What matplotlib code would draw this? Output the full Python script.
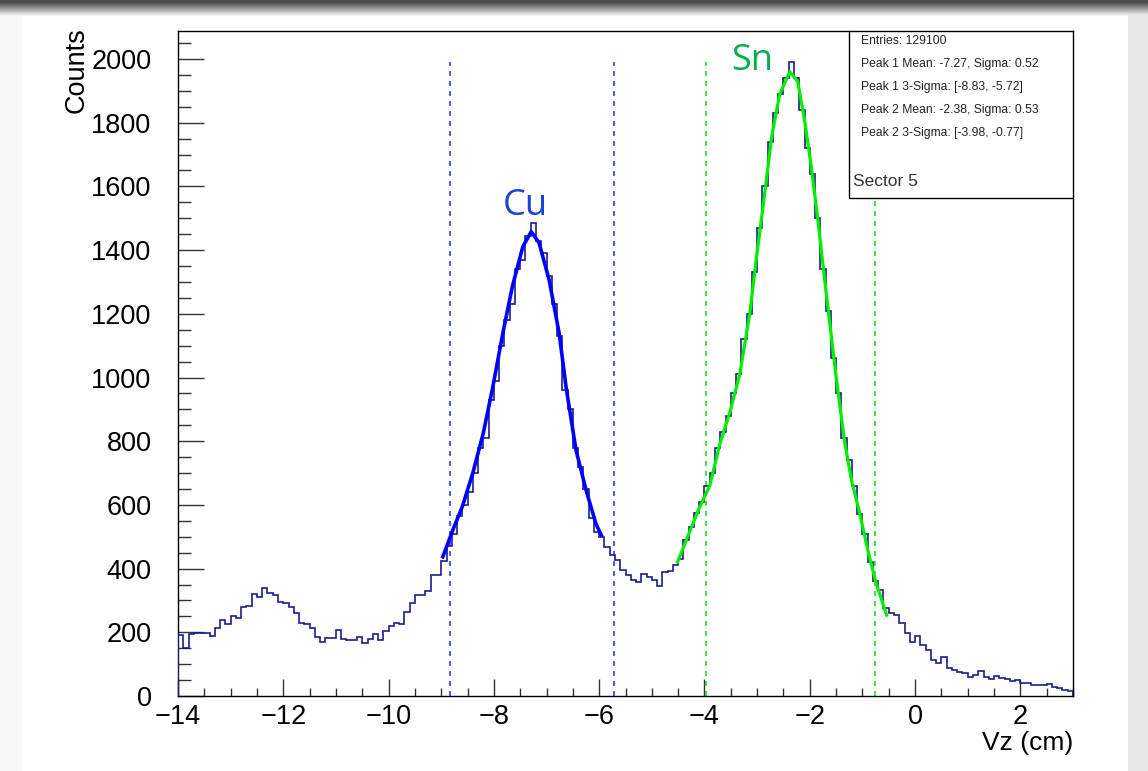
import numpy as np
import matplotlib.pyplot as plt
from matplotlib.patches import Rectangle
from matplotlib.ticker import MultipleLocator

# Vz histogram, 0.1 cm bins from -14 to 3
bin_lo, bin_hi, bin_w = -14.0, 3.0, 0.1
counts = [
    190, 150, 195, 199, 199, 199, 188, 213, 239, 226,
    252, 245, 280, 282, 320, 311, 339, 323, 317, 296,
    292, 279, 260, 230, 226, 213, 186, 170, 182, 183,
    207, 179, 176, 176, 185, 167, 179, 195, 176, 205,
    221, 230, 226, 264, 292, 318, 318, 331, 380, 380,
    # Cu peak
    425, 470, 510, 565, 600, 640, 700, 780, 810, 930,
    990, 1100, 1180, 1230, 1340, 1370, 1445, 1485, 1430, 1390,
    1320, 1230, 1130, 960, 900, 780, 720, 650, 560, 516,
    # valley
    500, 469, 443, 427, 396, 380, 364, 359, 383, 375, 364, 345, 390, 393, 411,
    # Sn peak
    430, 490, 530, 575, 610, 660, 700, 780, 830, 880,
    950, 1010, 1120, 1200, 1330, 1470, 1600, 1740, 1830, 1890,
    1940, 1990, 1940, 1840, 1720, 1640, 1500, 1340, 1210, 1060,
    950, 810, 740, 660, 570, 510, 420, 360, 333,
    # tail
    275, 262, 255, 230, 199, 171, 187, 160, 144, 113,
    105, 121, 87, 82, 76, 73, 61, 66, 80, 61,
    52, 63, 55, 52, 48, 50, 42, 40, 34, 33,
    33, 38, 28, 26, 20, 15,
]

# fit curves
cu_fit_x = [-8.97, -8.78, -8.6, -8.4, -8.2, -8.02, -7.83, -7.65, -7.45, -7.29,
            -7.14, -6.95, -6.76, -6.63, -6.44, -6.25, -6.06, -5.96]
cu_fit_y = [437, 521, 594, 700, 826, 971, 1139, 1285, 1411, 1458,
            1422, 1306, 1139, 971, 772, 647, 540, 505]
sn_fit_x = [-4.51, -4.32, -4.1, -3.9, -3.71, -3.52, -3.33, -3.14, -3.01, -2.87,
            -2.72, -2.57, -2.38, -2.23, -2.1, -1.97, -1.85, -1.74, -1.62, -1.49,
            -1.34, -1.21, -1.06, -0.9, -0.75, -0.54]
sn_fit_y = [421, 500, 590, 660, 790, 890, 1010, 1200, 1380, 1560,
            1760, 1890, 1960, 1930, 1810, 1660, 1500, 1340, 1170, 990,
            800, 680, 580, 460, 360, 254]

cu_bounds = [-8.83, -5.72]
sn_bounds = [-3.98, -0.77]
stats_lines = [
    "Entries: 129100",
    "Peak 1 Mean: -7.27, Sigma: 0.52",
    "Peak 1 3-Sigma: [-8.83, -5.72]",
    "Peak 2 Mean: -2.38, Sigma: 0.53",
    "Peak 2 3-Sigma: [-3.98, -0.77]",
]

plt.rcParams['font.family'] = ['Liberation Sans', 'DejaVu Sans']

W, H = 1148, 771
fig = plt.figure(figsize=(W / 100, H / 100), dpi=100)

# screenshot shadow around the card
bg = fig.add_axes([0, 0, 1, 1], zorder=-5)
yy = np.linspace(0, 1, H)[:, None]
xx = np.linspace(0, 1, W)[None, :]
shade = np.ones((H, W))
shade = np.minimum(shade, 0.3 + 0.7 * np.clip((yy * H - 2) / 14, 0, 1))
shade = np.where(xx * W > 1128, np.minimum(shade, 0.91), shade)
shade = np.where(xx * W < 22, np.minimum(shade, 0.97), shade)
bg.imshow(np.dstack([shade] * 3), aspect='auto', extent=[0, 1, 0, 1])
bg.axis('off')

ax = fig.add_axes([178 / W, 1 - 696 / H, (1073 - 178) / W, (696 - 31) / H])

edges = np.linspace(bin_lo, bin_hi, len(counts) + 1)
ax.stairs(counts, edges, color='#1c1c8c', linewidth=1.2, zorder=3)
ax.plot(cu_fit_x, cu_fit_y, color='#0000ff', linewidth=2.6, zorder=4)
ax.plot(sn_fit_x, sn_fit_y, color='#00ee00', linewidth=2.3, zorder=4)

top = max(counts)
ax.vlines(cu_bounds, 0, top, colors='#3a3aff', linestyles=(0, (3, 3)), linewidth=1.2, zorder=2)
ax.vlines(sn_bounds, 0, top, colors='#22dd22', linestyles=(0, (3, 3)), linewidth=1.2, zorder=2)

ax.set_xlim(bin_lo, bin_hi)
ax.set_ylim(0, 2088)
ax.xaxis.set_major_locator(MultipleLocator(2))
ax.xaxis.set_minor_locator(MultipleLocator(0.5))
ax.yaxis.set_major_locator(MultipleLocator(200))
ax.yaxis.set_minor_locator(MultipleLocator(50))
ax.tick_params(axis='both', which='both', direction='in', top=False, right=False,
               labelsize=19.5, width=1.0, color='#333333')
ax.tick_params(axis='x', which='major', length=12, pad=6)
ax.tick_params(axis='x', which='minor', length=6)
ax.tick_params(axis='y', which='major', length=19, pad=19)
ax.tick_params(axis='y', which='minor', length=9.5)
for s in ax.spines.values():
    s.set_linewidth(1.0)

fig.text(1073 / W, 1 - 731 / H, "Vz (cm)", fontsize=19, ha='right', va='top')
fig.text(77 / W, 1 - 27 / H, "Counts", fontsize=19.5, rotation=90, ha='center', va='top')

# stats box
ax.add_patch(Rectangle((0.7497, 0.7489), 0.2503, 0.2511, transform=ax.transAxes,
                       facecolor='white', edgecolor='black', linewidth=1.0, zorder=6))
for i, line in enumerate(stats_lines):
    ax.text(0.7634, 1 - (41 + i * 23 - 31) / 665, line, transform=ax.transAxes,
            fontsize=8.7, color='#222222', ha='left', va='center', zorder=7)
ax.text(0.754, 0.7489 + 16 / 665, "Sector 5", transform=ax.transAxes,
        fontsize=12.5, color='#333333', ha='left', va='center', zorder=7)

ax.text(-7.4, 1540, "Cu", color='#1a44d6', fontsize=26, ha='center', va='center',
        family=['Open Sans', 'DejaVu Sans'])
ax.text(-3.1, 1995, "Sn", color='#00b050', fontsize=26, ha='center', va='center',
        family=['Open Sans', 'DejaVu Sans'], zorder=5)

fig.savefig('out.png', dpi=100)
